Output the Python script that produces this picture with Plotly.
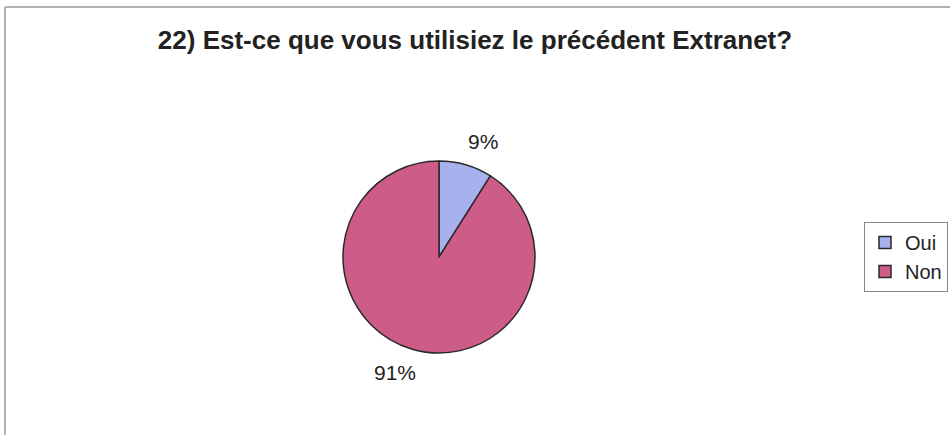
import math
import plotly.graph_objects as go

labels = ["Oui", "Non"]
values = [9, 91]
colors = ["#A6B1EE", "#CE5C89"]
title_text = "22) Est-ce que vous utilisiez le précédent Extranet?"

W, H = 950, 435
cx, cy, r = 439, 257, 96
label_r = 120      # radial distance of percentage labels (px)
label_xstretch = 1.3  # horizontal stretch of the label ellipse

fig = go.Figure(go.Pie(
    labels=labels,
    values=values,
    sort=False,
    direction="clockwise",
    rotation=0,
    marker=dict(colors=colors, line=dict(color="#2a2a2a", width=1.5)),
    textinfo="none",
    domain=dict(x=[(cx - r) / W, (cx + r) / W], y=[(H - cy - r) / H, (H - cy + r) / H]),
))

# percentage labels placed outside, along each slice's mid-angle (derived from data)
total = sum(values)
annotations = []
cum = 0
for v in values:
    mid = (cum + v / 2) / total * 2 * math.pi
    cum += v
    px = cx + label_r * label_xstretch * math.sin(mid)
    py = cy - label_r * math.cos(mid)
    annotations.append(dict(
        text=f"{round(v / total * 100)}%", x=px / W, y=1 - py / H,
        xref="paper", yref="paper", showarrow=False,
        xanchor="center", yanchor="middle",
        font=dict(family="Liberation Sans, Arial", size=21, color="#222"),
    ))

fig.update_layout(
    width=W, height=H,
    margin=dict(l=0, r=0, t=0, b=0),
    paper_bgcolor="white",
    plot_bgcolor="white",
    title=dict(text="<b>" + title_text + "</b>", x=0.5, xanchor="center",
               y=1 - 40 / H, yanchor="middle",
               font=dict(family="Liberation Sans, Arial", size=26, color="#222")),
    legend=dict(x=864 / W, y=1 - 222 / H, xanchor="left", yanchor="top",
                bordercolor="#888", borderwidth=1, bgcolor="white",
                font=dict(family="Liberation Sans, Arial", size=20, color="#222")),
    showlegend=True,
    annotations=annotations,
    shapes=[
        dict(type="line", xref="paper", yref="paper", x0=5 / W, x1=1, y0=1 - 7 / H, y1=1 - 7 / H,
             line=dict(color="#999", width=1.5)),
        dict(type="line", xref="paper", yref="paper", x0=5 / W, x1=5 / W, y0=0, y1=1 - 7 / H,
             line=dict(color="#999", width=1.5)),
    ],
)

fig.write_html("out.html")
